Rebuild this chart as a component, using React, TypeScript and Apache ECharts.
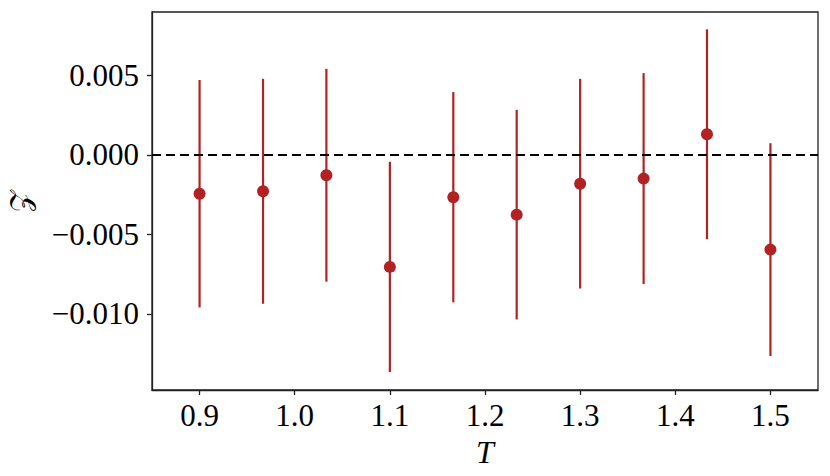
import React, { useEffect, useRef } from "react";
import * as echarts from "echarts";

const tValues = [0.9, 0.9667, 1.0333, 1.1, 1.1667, 1.2333, 1.3, 1.3667, 1.4333, 1.5];
const zValues = [-0.00244, -0.00229, -0.00128, -0.00705, -0.00266, -0.00376, -0.00181, -0.00149, 0.0013, -0.00596];
const zErrors = [0.00716, 0.00708, 0.0067, 0.00662, 0.00662, 0.0066, 0.0066, 0.00664, 0.00661, 0.0067];
const xTicks = [0.9, 1.0, 1.1, 1.2, 1.3, 1.4, 1.5];
const yTicks = [-0.01, -0.005, 0, 0.005];

const RED = "#b22222";
const FONT = "'Liberation Serif', 'DejaVu Serif', serif";

export default function App() {
  const ref = useRef<HTMLDivElement>(null);
  useEffect(() => {
    if (!ref.current) return;
    const chart = echarts.init(ref.current, null, { renderer: "svg" });
    const errData = tValues.map((t, i) => [t, zValues[i] - zErrors[i], zValues[i] + zErrors[i]]);
    chart.setOption({
      animation: false,
      grid: {
        left: 152,
        right: 12,
        top: 12,
        bottom: 86,
        containLabel: false,
        outerBoundsMode: "none",
        show: true,
        borderColor: "#222",
        borderWidth: 1.3,
        backgroundColor: "transparent",
      },
      xAxis: {
        type: "value",
        min: 0.85,
        max: 1.55,
        name: "T",
        nameLocation: "middle",
        nameGap: 36,
        nameTextStyle: { fontFamily: FONT, fontSize: 32, fontStyle: "italic", color: "#000" },
        axisLine: { show: true, onZero: false, lineStyle: { color: "#222", width: 1.3 } },
        axisTick: { show: true, length: 5, customValues: xTicks, lineStyle: { color: "#222", width: 1.3 } },
        axisLabel: {
          customValues: xTicks,
          fontFamily: FONT,
          fontSize: 31,
          color: "#000",
          margin: 10,
          formatter: (v: number) => v.toFixed(1),
        },
        splitLine: { show: false },
      },
      yAxis: {
        type: "value",
        min: -0.0148,
        max: 0.009,
        name: "𝒵",
        nameLocation: "middle",
        nameGap: 118,
        nameRotate: 90,
        nameTextStyle: { fontFamily: FONT, fontSize: 28, color: "#000" },
        axisLine: { show: true, onZero: false, lineStyle: { color: "#222", width: 1.3 } },
        axisTick: { show: true, length: 5, customValues: yTicks, lineStyle: { color: "#222", width: 1.3 } },
        axisLabel: {
          customValues: yTicks,
          fontFamily: FONT,
          fontSize: 31,
          color: "#000",
          margin: 13,
          formatter: (v: number) => {
            const s = Math.abs(v).toFixed(3);
            return v < -1e-12 ? "\u2212" + s : s;
          },
        },
        splitLine: { show: false },
      },
      series: [
        {
          type: "custom",
          data: errData,
          encode: { x: 0, y: [1, 2] },
          renderItem: (params: any, api: any) => {
            const x = api.value(0);
            const lo = api.coord([x, api.value(1)]);
            const hi = api.coord([x, api.value(2)]);
            return {
              type: "line",
              shape: { x1: lo[0], y1: lo[1], x2: hi[0], y2: hi[1] },
              style: { stroke: RED, lineWidth: 2.2 },
            };
          },
          z: 2,
        },
        {
          type: "scatter",
          data: tValues.map((t, i) => [t, zValues[i]]),
          symbol: "circle",
          symbolSize: 12,
          itemStyle: { color: RED, opacity: 1 },
          z: 3,
          markLine: {
            silent: true,
            symbol: "none",
            label: { show: false },
            lineStyle: { color: "#000", type: [9, 5], width: 2.2, opacity: 1 },
            data: [{ yAxis: 0 }],
            z: 5,
          },
        },
      ],
    });
    return () => chart.dispose();
  }, []);
  return <div ref={ref} style={{ width: 830, height: 476, position: "absolute", left: 0, top: 0 }} />;
}
